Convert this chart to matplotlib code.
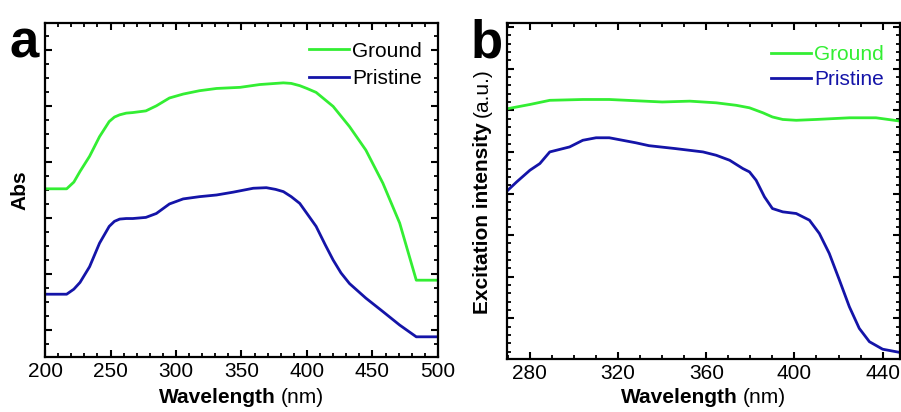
import matplotlib.pyplot as plt
from matplotlib.offsetbox import AnchoredOffsetbox, HPacker, VPacker, TextArea
from matplotlib.ticker import MultipleLocator

plt.rcParams["font.family"] = ["Liberation Sans", "DejaVu Sans"]

# Panel a: absorbance (arbitrary units)
abs_wl_ground = [200, 216.5, 222, 226.7, 234, 241.6, 249, 253, 257, 262, 267, 277, 285, 295,
                 305.5, 318, 331, 349, 364, 382, 388, 394.5, 400, 407, 420, 432.5, 445, 458,
                 470.8, 483.5, 500]
abs_ground = [2.52, 2.52, 2.64, 2.83, 3.10, 3.45, 3.72, 3.80, 3.84, 3.87, 3.88, 3.91, 4.00,
              4.14, 4.21, 4.27, 4.31, 4.33, 4.38, 4.41, 4.40, 4.36, 4.31, 4.24, 3.99, 3.63,
              3.21, 2.62, 1.91, 0.89, 0.89]
abs_wl_pristine = [200, 216.5, 222, 226.7, 234, 241.6, 249, 253, 257, 262, 267, 277, 285, 295,
                   305.5, 318, 331, 343.6, 359, 369, 376, 382, 388, 394.5, 400, 407, 414, 420,
                   426, 432.5, 445, 458, 470.8, 483.5, 500]
abs_pristine = [0.64, 0.64, 0.73, 0.85, 1.13, 1.55, 1.85, 1.94, 1.98, 1.99, 1.99, 2.01, 2.08,
                2.25, 2.34, 2.38, 2.41, 2.46, 2.53, 2.54, 2.51, 2.47, 2.38, 2.26, 2.08, 1.85,
                1.52, 1.25, 1.02, 0.83, 0.57, 0.33, 0.09, -0.12, -0.12]

# Panel b: excitation intensity (a.u.)
exc_wl_ground = [270, 280, 289, 304, 316, 328, 340, 352.5, 364.5, 373.6, 379.6, 385.7,
                 390, 394.7, 400.8, 409.8, 425, 437, 448]
exc_ground = [5.04, 5.14, 5.24, 5.26, 5.26, 5.23, 5.20, 5.22, 5.18, 5.12, 5.06, 4.94,
              4.84, 4.78, 4.76, 4.78, 4.82, 4.82, 4.74]
exc_wl_pristine = [270, 274, 280, 284.5, 289, 295, 298, 304, 310, 316, 322, 328, 334, 346,
                   358.5, 364.5, 370.6, 376.6, 379.6, 382.6, 386.4, 390, 394.7, 400.8, 406.8,
                   411.3, 415.8, 420.4, 424.9, 429.4, 434, 440, 448]
exc_pristine = [3.08, 3.28, 3.56, 3.72, 4.00, 4.08, 4.12, 4.28, 4.34, 4.34, 4.28, 4.22, 4.15,
                4.08, 4.00, 3.92, 3.80, 3.60, 3.52, 3.32, 2.92, 2.64, 2.56, 2.52, 2.36,
                2.04, 1.56, 0.92, 0.28, -0.24, -0.56, -0.74, -0.82]

green = "#33ee33"
blue = "#1414a8"
fs = 15


def style_axes(ax, xmaj, xmin, ymin_step):
    for s in ax.spines.values():
        s.set_linewidth(1.6)
    ax.xaxis.set_major_locator(MultipleLocator(xmaj))
    ax.xaxis.set_minor_locator(MultipleLocator(xmin))
    ax.yaxis.set_major_locator(MultipleLocator(1))
    ax.yaxis.set_minor_locator(MultipleLocator(ymin_step))
    ax.tick_params(which="both", direction="in", top=True, right=True, labelsize=fs)
    ax.tick_params(which="major", length=5, width=1.5)
    ax.tick_params(which="minor", length=3, width=1.3)
    ax.tick_params(axis="y", labelleft=False)


def split_label(ax, bold, normal, loc_xy, rotation=0):
    a = TextArea(bold, textprops=dict(fontsize=fs, fontweight="bold", rotation=rotation))
    b = TextArea(normal, textprops=dict(fontsize=fs, rotation=rotation))
    if rotation:
        box = VPacker(children=[b, a], align="center", pad=0, sep=4)
    else:
        box = HPacker(children=[a, b], align="baseline", pad=0, sep=4)
    anc = AnchoredOffsetbox(loc="center", child=box, frameon=False,
                            bbox_to_anchor=loc_xy, bbox_transform=ax.transAxes, borderpad=0)
    ax.add_artist(anc)


fig = plt.figure(figsize=(9.01, 4.12), dpi=100)
ax0 = fig.add_axes([0.05, 0.1335, 0.436, 0.811])
ax1 = fig.add_axes([0.5627, 0.1286, 0.436, 0.8154])

# panel a
ax0.plot(abs_wl_ground, abs_ground, color=green, lw=2, label="Ground")
ax0.plot(abs_wl_pristine, abs_pristine, color=blue, lw=2, label="Pristine")
ax0.set_xlim(200, 500)
ax0.set_ylim(-0.48, 5.48)
style_axes(ax0, 50, 10, 0.25)
ax0.set_ylabel("Abs", fontsize=fs, fontweight="bold", labelpad=8)
split_label(ax0, "Wavelength", "(nm)", (0.5, -0.12))
ax0.legend(loc="upper right", frameon=False, fontsize=fs, handlelength=1.9,
           handletextpad=0.15, borderaxespad=0.1, labelspacing=0.42,
           bbox_to_anchor=(0.985, 0.975))
fig.text(0.01, 0.955, "a", fontsize=38, fontweight="bold", va="top")

# panel b
ax1.plot(exc_wl_ground, exc_ground, color=green, lw=2, label="Ground")
ax1.plot(exc_wl_pristine, exc_pristine, color=blue, lw=2, label="Pristine")
ax1.set_xlim(269.6, 447.8)
ax1.set_ylim(-0.976, 7.096)
style_axes(ax1, 40, 10, 0.2)
split_label(ax1, "Wavelength", "(nm)", (0.5, -0.115))
split_label(ax1, "Excitation intensity", "(a.u.)", (-0.062, 0.5), rotation=90)
ax1.legend(loc="upper right", frameon=False, fontsize=fs, handlelength=1.9,
           handletextpad=0.15, borderaxespad=0.1, labelspacing=0.28,
           labelcolor="linecolor", bbox_to_anchor=(0.985, 0.965))
fig.text(0.522, 0.955, "b", fontsize=38, fontweight="bold", va="top")

fig.savefig("out.png", dpi=100, facecolor="white")
